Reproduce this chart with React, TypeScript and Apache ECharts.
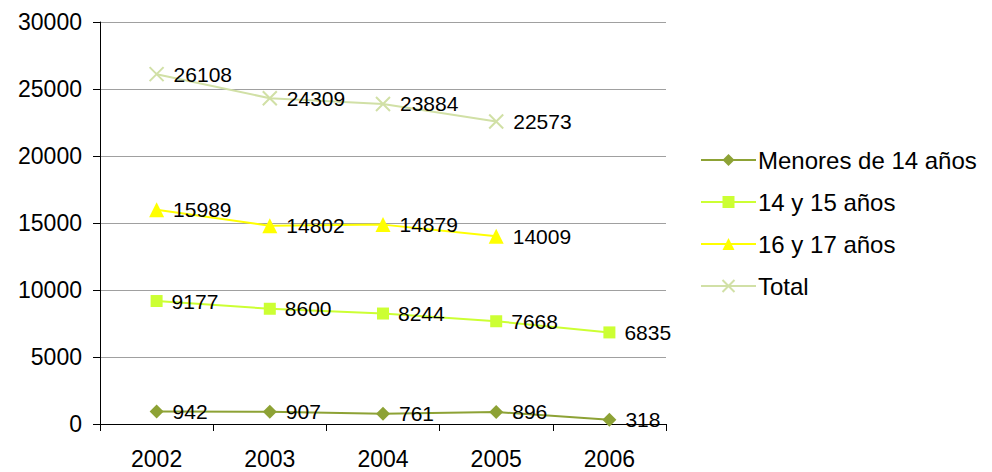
import React, { useEffect, useRef } from "react";
import * as echarts from "echarts";

const years = ["2002", "2003", "2004", "2005", "2006"];
const menores14 = [942, 907, 761, 896, 318];
const anos14y15 = [9177, 8600, 8244, 7668, 6835];
const anos16y17 = [15989, 14802, 14879, 14009, null];
const total = [26108, 24309, 23884, 22573, null];
const yTicks = [0, 5000, 10000, 15000, 20000, 25000, 30000];

const FONT = "Liberation Sans, Arial, sans-serif";

export default function App() {
  const ref = useRef<HTMLDivElement>(null);
  useEffect(() => {
    if (!ref.current) return;
    const chart = echarts.init(ref.current, null, { renderer: "svg" });
    const label = {
      show: true,
      position: "right" as const,
      distance: 9,
      color: "#000",
      fontSize: 21,
      fontFamily: FONT,
    };
    const mk = (name: string, data: any[], color: string, symbol: string, size: number, extra: any = {}) => ({
      name,
      type: "line",
      data,
      symbol,
      symbolSize: size,
      lineStyle: { color, width: 2 },
      itemStyle: { color, ...(extra.itemStyle || {}) },
      label,
      emphasis: { disabled: true },
    });
    chart.setOption({
      animation: false,
      grid: { left: 92, top: 14, width: 566, height: 402, outerBoundsMode: "none", containLabel: false },
      legend: {
        orient: "vertical",
        left: 687,
        top: 135,
        itemWidth: 55,
        itemHeight: 15,
        itemGap: 18,
        textStyle: { fontSize: 24, fontFamily: FONT, color: "#000", padding: [0, 0, 0, -3] },
        data: ["Menores de 14 años", "14 y 15 años", "16 y 17 años", "Total"],
      },
      xAxis: {
        type: "category",
        data: years,
        boundaryGap: true,
        axisLine: { lineStyle: { color: "#000", width: 1 } },
        axisTick: { show: true, length: 7, lineStyle: { color: "#000" } },
        axisLabel: { fontSize: 23, fontFamily: FONT, color: "#000", margin: 23 },
      },
      yAxis: {
        type: "value",
        min: 0,
        max: 30000,
        interval: 5000,
        axisLine: { show: true, lineStyle: { color: "#000" } },
        axisTick: { show: true, length: 7, lineStyle: { color: "#000" } },
        splitLine: { lineStyle: { color: "#a0a0a0", width: 1 } },
        axisLabel: {
          fontSize: 23,
          fontFamily: FONT,
          color: "#000",
          margin: 18,
          formatter: (v: number) => (yTicks.includes(v) ? String(v) : ""),
        },
      },
      series: [
        mk("Menores de 14 años", menores14, "#8da235", "diamond", 14),
        mk("14 y 15 años", anos14y15, "#ccff33", "rect", 12),
        mk("16 y 17 años", anos16y17, "#ffff00", "triangle", 15),
        mk("Total", total, "#d1e0a6", "path://M0,0L10,10M10,0L0,10", 14, {
          itemStyle: { borderColor: "#d1e0a6", borderWidth: 2 },
        }),
      ],
    });
    return () => chart.dispose();
  }, []);
  return <div ref={ref} style={{ width: 984, height: 464 }} />;
}
